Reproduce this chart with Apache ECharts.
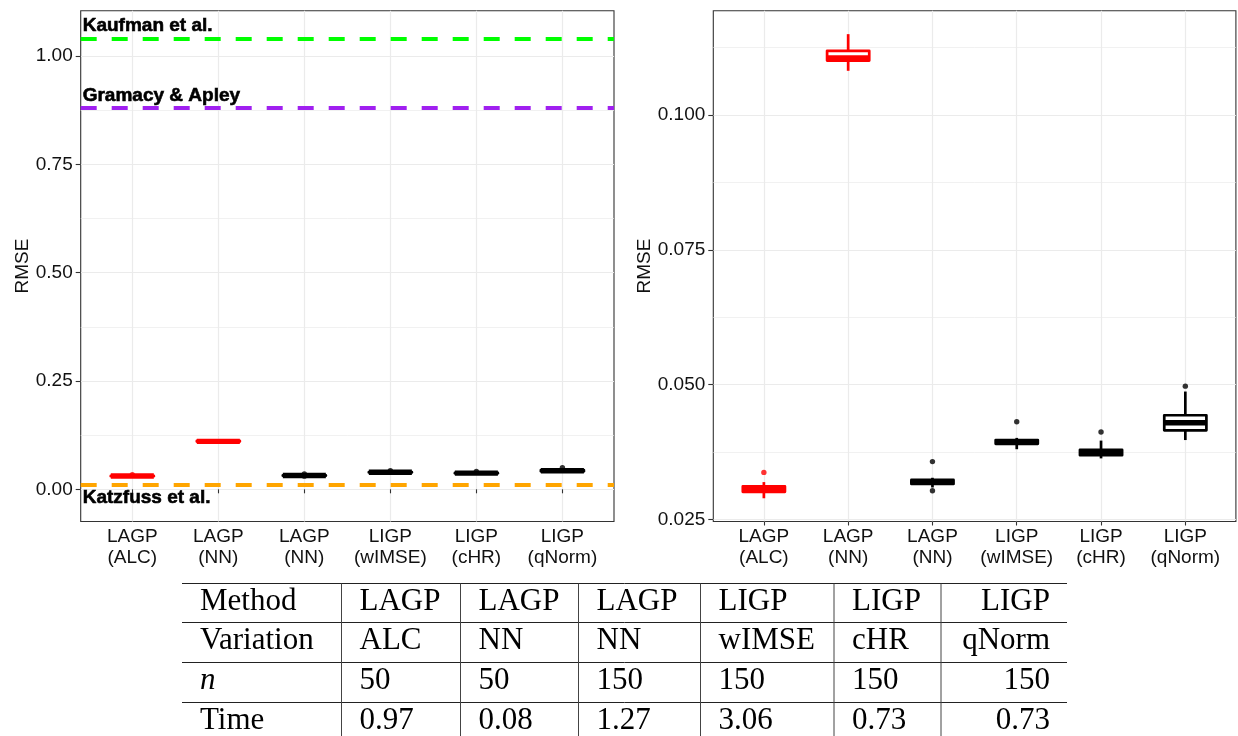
<!DOCTYPE html>
<html>
<head>
<meta charset="utf-8">
<script src="https://cdn.jsdelivr.net/npm/echarts@6/dist/echarts.min.js"></script>
<style>
  html, body { margin: 0; padding: 0; background: #ffffff; }
  #chart { width: 1238px; height: 736px; }
</style>
</head>
<body>
<div id="chart"></div>
<script>
// Methods compared: x-axis categories and table columns
const methods = ['LAGP', 'LAGP', 'LAGP', 'LIGP', 'LIGP', 'LIGP'];
const variations = ['ALC', 'NN', 'NN', 'wIMSE', 'cHR', 'qNorm'];
const designSizes = ['50', '50', '150', '150', '150', '150'];
const times = ['0.97', '0.08', '1.27', '3.06', '0.73', '0.73'];
const tableRowLabels = ['Method', 'Variation', 'n', 'Time'];

// RMSE five-number summaries per method (whisker ends, quartiles, median)
const rmseMin    = [0.0289, 0.1082, 0.0309, 0.0380, 0.0363, 0.0397];
const rmseQ1     = [0.0301, 0.1101, 0.03155, 0.0390, 0.0369, 0.0415];
const rmseMedian = [0.0306, 0.1106, 0.0319, 0.0393, 0.0374, 0.0429];
const rmseQ3     = [0.0311, 0.1119, 0.0323, 0.0397, 0.0379, 0.0443];
const rmseMax    = [0.0319, 0.1150, 0.0327, 0.0401, 0.0396, 0.0487];

// Outlying replicates (method number, RMSE)
const outlierMethod = [1, 3, 3, 4, 5, 6];
const outlierRmse   = [0.0337, 0.0357, 0.0303, 0.0431, 0.0412, 0.0497];

// Published RMSE of competing approaches
const refNames = ['Kaufman et al.', 'Gramacy & Apley', 'Katzfuss et al.'];
const refRmse  = [1.041, 0.881, 0.014];

// Axis ticks
const leftTicks  = [0, 0.25, 0.5, 0.75, 1];
const leftMinor  = [0.125, 0.375, 0.625, 0.875];
const rightTicks = [0.025, 0.05, 0.075, 0.1];
const rightMinor = [0.0375, 0.0625, 0.0875, 0.1125];

// ---- styling ----
const FONT = 'Liberation Sans';
const SERIF = 'Liberation Serif';
const boxColors = ['#ff0000', '#ff0000', '#000000', '#000000', '#000000', '#000000'];
const refColors = ['#00ff00', '#a020f0', '#ffa500'];
const refLabelPos = ['insideStartTop', 'insideStartTop', 'insideStartBottom'];
const BOX_WIDTH = 0.5;
const LINE_W = 2.7;
const GRID_COLOR = '#ebebeb';
const TEXT_COLOR = '#111111';
const TICK_FONT = 19;

const methodNumbers = methods.map((m, i) => i + 1);
const categoryLabels = methods.map((m, i) => m + '\n(' + variations[i] + ')');
const boxData = methodNumbers.map((x, i) =>
  [x, rmseMin[i], rmseQ1[i], rmseMedian[i], rmseQ3[i], rmseMax[i]]);
const outlierData = outlierMethod.map((x, i) => [x, outlierRmse[i]]);

function renderBox(params, api) {
  const x = api.value(0);
  const lo = api.coord([x, api.value(1)]);
  const q1 = api.coord([x, api.value(2)]);
  const md = api.coord([x, api.value(3)]);
  const q3 = api.coord([x, api.value(4)]);
  const hi = api.coord([x, api.value(5)]);
  const half = api.size([BOX_WIDTH, 0])[0] / 2;
  const color = boxColors[params.dataIndex];
  return {
    type: 'group',
    children: [
      { type: 'line', shape: { x1: lo[0], y1: lo[1], x2: hi[0], y2: hi[1] },
        style: { stroke: color, lineWidth: LINE_W } },
      { type: 'rect', shape: { x: q3[0] - half, y: q3[1], width: half * 2, height: q1[1] - q3[1] },
        style: { fill: '#ffffff', stroke: color, lineWidth: LINE_W, lineJoin: 'round' } },
      { type: 'line', shape: { x1: md[0] - half, y1: md[1], x2: md[0] + half, y2: md[1] },
        style: { stroke: color, lineWidth: LINE_W * 2 } }
    ]
  };
}

function xAxisFor(gridIndex) {
  return {
    type: 'value', gridIndex, min: 0.4, max: 6.6,
    axisLine: { show: false },
    axisTick: { show: true, length: 4, customValues: methodNumbers,
                lineStyle: { color: '#333333', width: 1.1 } },
    axisLabel: { customValues: methodNumbers, margin: 5, color: TEXT_COLOR,
                 fontFamily: FONT, fontSize: TICK_FONT, lineHeight: 21,
                 formatter: v => categoryLabels[Math.round(v) - 1] },
    splitLine: { show: true, lineStyle: { color: GRID_COLOR, width: 1.2 } }
  };
}

function yMajor(gridIndex, min, max, ticks, digits, nameGap) {
  return {
    type: 'value', gridIndex, min, max,
    name: 'RMSE', nameLocation: 'middle', nameGap, nameRotate: 90,
    nameTextStyle: { color: TEXT_COLOR, fontFamily: FONT, fontSize: TICK_FONT },
    axisLine: { show: false },
    axisTick: { show: true, length: 5, customValues: ticks,
                lineStyle: { color: '#333333', width: 1.1 } },
    axisLabel: { customValues: ticks, margin: 8, color: TEXT_COLOR,
                 fontFamily: FONT, fontSize: TICK_FONT,
                 formatter: v => v.toFixed(digits) },
    splitLine: { show: true, lineStyle: { color: GRID_COLOR, width: 1.2 } }
  };
}

function yMinor(gridIndex, min, max, ticks) {
  return {
    type: 'value', gridIndex, min, max,
    axisLine: { show: false },
    axisTick: { show: false, customValues: ticks },
    axisLabel: { show: false },
    splitLine: { show: true, lineStyle: { color: GRID_COLOR, width: 0.7 } }
  };
}

// Table beneath the panels
const tableCols = [182, 341.5, 460.5, 578.5, 700.5, 834, 941, 1067];
const tableRowTops = [583.5, 622.5, 662.5, 702.5];
const TABLE_BOTTOM = 736;
const tableBody = [
  [tableRowLabels[0]].concat(methods),
  [tableRowLabels[1]].concat(variations),
  [tableRowLabels[2]].concat(designSizes),
  [tableRowLabels[3]].concat(times)
];
const graphics = [];
tableRowTops.forEach(y => graphics.push({
  type: 'line', silent: true,
  shape: { x1: tableCols[0], y1: y, x2: tableCols[tableCols.length - 1], y2: y },
  style: { stroke: '#222222', lineWidth: 1 }
}));
tableCols.slice(1, -1).forEach(x => graphics.push({
  type: 'line', silent: true,
  shape: { x1: x, y1: tableRowTops[0], x2: x, y2: TABLE_BOTTOM },
  style: { stroke: '#444444', lineWidth: 1 }
}));
tableBody.forEach((row, r) => {
  row.forEach((cell, c) => {
    const last = c === row.length - 1;
    graphics.push({
      type: 'text', silent: true,
      x: last ? tableCols[c + 1] - 17 : tableCols[c] + 18,
      y: tableRowTops[r] + 18,
      style: {
        text: cell, fill: '#000000', fontFamily: SERIF, fontSize: 31,
        fontStyle: (r === 2 && c === 0) ? 'italic' : 'normal',
        align: last ? 'right' : 'left', verticalAlign: 'middle'
      }
    });
  });
});

const LEFT_MIN = -0.0743, LEFT_MAX = 1.1045;
const RIGHT_MIN = 0.02459, RIGHT_MAX = 0.11935;

const chart = echarts.init(document.getElementById('chart'), null, { renderer: 'canvas' });
chart.setOption({
  backgroundColor: '#ffffff',
  animation: false,
  textStyle: { fontFamily: FONT },
  grid: [
    { left: 80.7, top: 10.7, width: 533.3, height: 510.8, show: true,
      backgroundColor: '#ffffff', borderColor: '#333333', borderWidth: 1.1 },
    { left: 713.3, top: 10.7, width: 522.6, height: 510.8, show: true,
      backgroundColor: '#ffffff', borderColor: '#333333', borderWidth: 1.1 }
  ],
  xAxis: [xAxisFor(0), xAxisFor(1)],
  yAxis: [
    yMajor(0, LEFT_MIN, LEFT_MAX, leftTicks, 2, 47),
    yMinor(0, LEFT_MIN, LEFT_MAX, leftMinor),
    yMajor(1, RIGHT_MIN, RIGHT_MAX, rightTicks, 3, 58),
    yMinor(1, RIGHT_MIN, RIGHT_MAX, rightMinor)
  ],
  series: [
    {
      type: 'custom', xAxisIndex: 0, yAxisIndex: 0, renderItem: renderBox,
      encode: { x: 0, y: [1, 2, 3, 4, 5] }, data: boxData, silent: true, z: 3,
      markLine: {
        silent: true, symbol: ['none', 'none'], animation: false,
        emphasis: { disabled: true },
        data: refNames.map((name, i) => ({
          name, yAxis: refRmse[i],
          lineStyle: { color: refColors[i], width: 3.8, type: [16, 15] },
          label: {
            show: true, position: refLabelPos[i], distance: [2, 3],
            formatter: '{b}', color: '#000000', fontFamily: FONT, fontSize: 19,
            fontWeight: 'bold', textBorderColor: '#000000', textBorderWidth: 0.6
          }
        }))
      }
    },
    {
      type: 'scatter', xAxisIndex: 0, yAxisIndex: 0, data: outlierData,
      symbolSize: 5.4, silent: true, z: 4,
      itemStyle: { color: p => boxColors[outlierMethod[p.dataIndex] - 1] }
    },
    {
      type: 'custom', xAxisIndex: 1, yAxisIndex: 2, renderItem: renderBox,
      encode: { x: 0, y: [1, 2, 3, 4, 5] }, data: boxData, silent: true, z: 3
    },
    {
      type: 'scatter', xAxisIndex: 1, yAxisIndex: 2, data: outlierData,
      symbolSize: 5.4, silent: true, z: 4,
      itemStyle: { color: p => boxColors[outlierMethod[p.dataIndex] - 1] }
    }
  ],
  graphic: graphics
});
</script>
</body>
</html>
